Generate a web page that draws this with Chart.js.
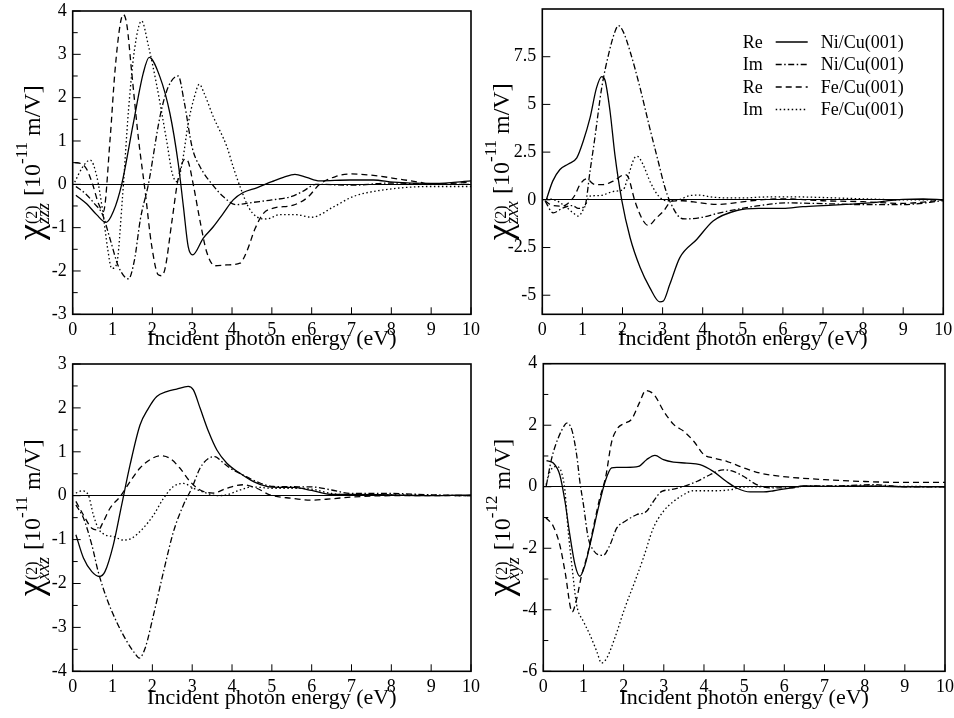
<!DOCTYPE html>
<html>
<head>
<meta charset="utf-8">
<script src="https://cdn.jsdelivr.net/npm/chart.js@4.4.1/dist/chart.umd.min.js"></script>
<style>
  body { margin: 0; background: #fff; width: 954px; height: 718px; overflow: hidden; }
  .panel { position: absolute; }
</style>
</head>
<body>
<div class="panel" style="left:0;top:0;width:490px;height:359px"><canvas id="zzz"></canvas></div>
<div class="panel" style="left:464px;top:0;width:490px;height:359px"><canvas id="zxx"></canvas></div>
<div class="panel" style="left:0;top:340px;width:490px;height:378px"><canvas id="xxz"></canvas></div>
<div class="panel" style="left:464px;top:340px;width:490px;height:378px"><canvas id="xyz"></canvas></div>
<script>
// ─── DATA (energies in eV) ──────────────────────────────────────
const xTicks = [0, 1, 2, 3, 4, 5, 6, 7, 8, 9, 10];
const partLabels = ['Re', 'Im', 'Re', 'Im'];
const filmLabels = ['Ni/Cu(001)', 'Ni/Cu(001)', 'Fe/Cu(001)', 'Fe/Cu(001)'];
const xTitle = 'Incident photon energy (eV)';

// chi_zzz  [1e-11 m/V]
const zzzTicks = [-3, -2, -1, 0, 1, 2, 3, 4];
const zzzReNiE = [0.08, 0.35, 0.6, 0.84, 1.02, 1.23, 1.52, 1.77, 1.92, 2.19, 2.44, 2.65, 2.78, 2.9, 3.01, 3.28, 3.53, 3.78, 4.03, 4.28, 4.62, 5.0, 5.29, 5.58, 5.87, 6.2, 6.96, 7.55, 8.05, 9.0, 9.5, 10];
const zzzReNi = [-0.25, -0.45, -0.7, -0.88, -0.63, 0, 1.4, 2.56, 2.93, 2.48, 1.64, 0.48, -0.52, -1.44, -1.63, -1.24, -0.98, -0.67, -0.36, -0.19, -0.08, 0.06, 0.16, 0.23, 0.16, 0.08, 0.1, 0.1, 0.05, 0.02, 0.04, 0.08];
const zzzImNiE = [0.08, 0.3, 0.55, 0.75, 0.95, 1.15, 1.4, 1.55, 1.7, 1.9, 2.2, 2.4, 2.65, 2.8, 3.0, 3.2, 3.5, 3.8, 4.1, 4.5, 5.0, 5.5, 5.8, 6.1, 7.0, 8.0, 9.0, 10];
const zzzImNi = [-0.05, -0.2, -0.45, -0.7, -1.3, -1.9, -2.18, -1.75, -0.8, 0.0, 1.6, 2.25, 2.5, 1.9, 0.85, 0.4, 0.0, -0.3, -0.47, -0.42, -0.36, -0.28, -0.15, 0.0, -0.02, 0.03, 0.0, 0.0];
const zzzReFeE = [0.05, 0.2, 0.35, 0.5, 0.65, 0.77, 0.94, 1.06, 1.19, 1.27, 1.36, 1.48, 1.65, 1.82, 1.98, 2.15, 2.23, 2.32, 2.49, 2.65, 2.82, 2.9, 3.03, 3.2, 3.36, 3.57, 3.87, 4.2, 4.37, 4.58, 4.79, 5.04, 5.54, 5.9, 6.2, 6.6, 7.0, 7.6, 8.2, 8.7, 9.0, 9.5, 10];
const zzzReFe = [0.5, 0.48, 0.35, 0.0, -0.45, -0.63, 1.06, 2.6, 3.68, 3.92, 3.68, 2.6, 1.06, -0.17, -1.4, -2.09, -2.11, -1.94, -0.86, 0.14, 0.58, 0.52, -0.02, -0.86, -1.55, -1.88, -1.86, -1.82, -1.55, -1.02, -0.67, -0.55, -0.48, -0.3, 0.0, 0.18, 0.24, 0.2, 0.12, 0.05, 0.0, 0.02, 0.05];
const zzzImFeE = [0.05, 0.25, 0.44, 0.6, 0.75, 0.88, 0.98, 1.1, 1.25, 1.4, 1.55, 1.73, 1.9, 2.1, 2.36, 2.5, 2.62, 2.75, 2.9, 3.05, 3.18, 3.3, 3.53, 3.87, 4.03, 4.2, 4.41, 4.62, 4.87, 5.2, 5.6, 6.0, 6.55, 7.05, 7.8, 9.0, 10];
const zzzImFe = [0.05, 0.4, 0.56, 0.2, -0.6, -1.5, -1.94, -1.85, -0.3, 1.7, 3.1, 3.77, 3.2, 2.33, 1.0, 0.25, 0.06, 0.5, 1.4, 2.0, 2.31, 2.1, 1.56, 0.87, 0.4, -0.05, -0.52, -0.75, -0.8, -0.7, -0.7, -0.76, -0.52, -0.28, -0.13, -0.05, -0.05];

// chi_zxx  [1e-11 m/V]
const zxxTicks = [-5, -2.5, 0, 2.5, 5, 7.5];
const zxxReNiE = [0.1, 0.26, 0.44, 0.65, 0.86, 1.02, 1.19, 1.35, 1.48, 1.56, 1.69, 1.81, 1.98, 2.19, 2.44, 2.68, 2.93, 3.02, 3.18, 3.43, 3.85, 4.26, 4.85, 5.4, 6.0, 6.5, 7.0, 8.0, 9.0, 9.5, 10];
const zxxReNi = [0, 0.98, 1.59, 1.88, 2.2, 3.07, 4.29, 5.85, 6.46, 6.29, 4.63, 2.37, 0, -1.99, -3.55, -4.6, -5.35, -5.3, -4.43, -3.03, -2.08, -1.11, -0.56, -0.45, -0.45, -0.36, -0.3, -0.19, 0.02, 0.05, 0.0];
const zxxImNiE = [0.07, 0.27, 0.52, 0.75, 0.9, 1.06, 1.19, 1.31, 1.48, 1.65, 1.81, 1.9, 2.02, 2.19, 2.44, 2.68, 2.89, 3.06, 3.18, 3.43, 3.56, 3.93, 4.43, 4.93, 5.42, 6.1, 7.0, 8.0, 9.0, 10];
const zxxImNi = [-0.07, -0.68, -0.42, -0.3, -0.45, -0.33, 1.5, 3.24, 5.85, 7.6, 8.8, 9.13, 8.8, 7.77, 5.85, 3.76, 2.02, 0.63, -0.07, -0.93, -1.0, -0.94, -0.68, -0.47, -0.3, -0.16, -0.2, -0.25, -0.25, -0.05];
const zxxReFeE = [0.07, 0.19, 0.44, 0.6, 0.8, 0.94, 1.1, 1.31, 1.52, 1.77, 2.06, 2.15, 2.31, 2.52, 2.64, 2.85, 3.02, 3.23, 3.5, 3.93, 4.35, 4.8, 5.2, 6.0, 7.0, 8.0, 9.0, 9.5, 10];
const zxxReFe = [-0.05, -0.24, -0.33, -0.25, 0.2, 0.8, 1.1, 0.8, 0.8, 0.98, 1.32, 1.15, -0.07, -1.11, -1.34, -0.94, -0.6, -0.07, -0.05, -0.16, -0.24, -0.16, -0.05, 0.05, -0.05, -0.1, -0.19, -0.12, 0.0];
const zxxImFeE = [0.1, 0.3, 0.55, 0.75, 0.9, 1.05, 1.2, 1.43, 1.8, 2.02, 2.15, 2.3, 2.37, 2.5, 2.7, 2.9, 3.1, 3.4, 3.68, 3.93, 4.2, 4.68, 5.0, 5.6, 6.4, 7.0, 8.0, 9.0, 10];
const zxxImFe = [0.05, 0.0, -0.3, -0.65, -0.85, -0.4, 0.2, 0.22, 0.45, 0.54, 1.3, 2.2, 2.28, 1.9, 0.9, 0.2, -0.05, 0.0, 0.22, 0.25, 0.15, 0.1, 0.1, 0.15, 0.15, 0.12, 0.05, 0.0, 0.0];

// chi_xxz  [1e-11 m/V]
const xxzTicks = [-4, -3, -2, -1, 0, 1, 2, 3];
const xxzReNiE = [0.08, 0.27, 0.48, 0.67, 0.81, 1.02, 1.23, 1.44, 1.69, 1.9, 2.11, 2.36, 2.61, 2.9, 3.03, 3.2, 3.41, 3.62, 3.87, 4.2, 4.54, 4.87, 5.2, 5.54, 6.0, 6.5, 7.0, 8.0, 9.0, 10];
const xxzReNi = [-0.89, -1.42, -1.73, -1.84, -1.73, -1.12, -0.21, 0.7, 1.61, 1.99, 2.26, 2.37, 2.43, 2.49, 2.41, 1.99, 1.46, 1.04, 0.74, 0.51, 0.32, 0.21, 0.19, 0.19, 0.12, 0.03, 0.03, 0.02, 0.0, 0.02];
const xxzImNiE = [0.08, 0.27, 0.48, 0.64, 0.85, 1.1, 1.36, 1.56, 1.67, 1.82, 2.03, 2.28, 2.53, 2.78, 2.99, 3.2, 3.41, 3.57, 3.74, 3.95, 4.28, 4.62, 5.04, 6.0, 6.5, 7.0, 8.0, 9.0, 10];
const xxzImNi = [-0.21, -0.51, -1.12, -1.73, -2.33, -2.87, -3.32, -3.59, -3.7, -3.47, -2.71, -1.73, -0.82, -0.21, 0.17, 0.63, 0.85, 0.89, 0.78, 0.63, 0.47, 0.32, 0.21, 0.2, 0.13, 0.05, 0.05, 0.02, 0.0];
const xxzReFeE = [0.08, 0.27, 0.48, 0.64, 0.77, 0.94, 1.19, 1.44, 1.69, 1.94, 2.19, 2.44, 2.69, 2.95, 3.2, 3.53, 3.87, 4.28, 4.62, 4.95, 5.5, 6.0, 6.5, 7.0, 8.0, 10];
const xxzReFe = [-0.13, -0.44, -0.74, -0.78, -0.59, -0.28, -0.02, 0.32, 0.63, 0.82, 0.91, 0.85, 0.63, 0.32, 0.13, 0.06, 0.17, 0.25, 0.17, 0.02, -0.06, -0.1, -0.07, -0.03, 0.0, 0.0];
const xxzImFeE = [0.08, 0.23, 0.39, 0.52, 0.64, 0.81, 1.02, 1.27, 1.48, 1.77, 2.03, 2.28, 2.53, 2.78, 3.03, 3.36, 3.62, 3.87, 4.2, 4.5, 5.0, 5.5, 6.0, 6.5, 7.0, 8.0, 10];
const xxzImFe = [0.06, 0.11, 0.02, -0.44, -0.74, -0.89, -0.93, -1.01, -0.97, -0.74, -0.44, -0.06, 0.21, 0.28, 0.17, 0.06, 0.0, 0.02, 0.13, 0.2, 0.17, 0.17, 0.15, 0.05, 0.02, 0.02, 0.0];

// chi_xyz  [1e-12 m/V]
const xyzTicks = [-6, -4, -2, 0, 2, 4];
const xyzReNiE = [0.08, 0.25, 0.41, 0.54, 0.66, 0.79, 0.91, 1.04, 1.2, 1.37, 1.54, 1.7, 1.83, 2.07, 2.37, 2.57, 2.78, 2.99, 3.24, 3.57, 3.9, 4.23, 4.56, 4.81, 5.15, 5.48, 5.74, 6.16, 6.49, 7.0, 8.0, 9.0, 10];
const xyzReNi = [0.85, 0.77, 0.39, -0.48, -1.56, -2.54, -2.91, -2.54, -1.67, -0.69, 0.17, 0.61, 0.63, 0.63, 0.66, 0.88, 1.02, 0.88, 0.8, 0.77, 0.72, 0.5, 0.17, -0.04, -0.17, -0.17, -0.13, -0.04, 0.03, 0.01, 0.03, 0.0, 0.0];
const xyzImNiE = [0.07, 0.21, 0.37, 0.54, 0.58, 0.71, 0.83, 0.91, 1.0, 1.12, 1.24, 1.37, 1.49, 1.66, 1.83, 2.03, 2.32, 2.57, 2.74, 2.95, 3.15, 3.49, 3.82, 4.15, 4.48, 4.73, 4.98, 5.31, 5.64, 6.16, 6.57, 7.4, 8.2, 9.0, 10];
const xyzImNi = [0, 0.93, 1.58, 2.02, 2.07, 1.85, 1.04, 0.17, -0.59, -1.67, -2.05, -2.21, -2.23, -1.89, -1.34, -1.13, -0.91, -0.8, -0.48, -0.15, -0.1, 0.01, 0.17, 0.39, 0.55, 0.5, 0.34, 0.07, -0.04, -0.04, 0.03, 0.03, 0.07, 0.0, 0.0];
const xyzReFeE = [0.06, 0.25, 0.41, 0.54, 0.72, 0.82, 0.95, 1.1, 1.25, 1.4, 1.55, 1.7, 1.85, 2.0, 2.2, 2.4, 2.55, 2.76, 3.0, 3.25, 3.5, 3.75, 4.0, 4.25, 4.58, 5.0, 5.41, 5.91, 7.0, 8.0, 9.0, 10];
const xyzReFe = [-1.0, -1.29, -1.89, -2.75, -4.07, -3.7, -2.9, -2.2, -1.3, -0.4, 0.3, 1.45, 1.9, 2.05, 2.2, 2.75, 3.13, 2.99, 2.45, 2.02, 1.8, 1.47, 1.04, 0.93, 0.82, 0.61, 0.44, 0.34, 0.23, 0.17, 0.14, 0.14];
const xyzImFeE = [0.07, 0.17, 0.33, 0.46, 0.54, 0.62, 0.71, 0.83, 1.0, 1.16, 1.33, 1.45, 1.58, 1.78, 2.03, 2.28, 2.49, 2.74, 2.99, 3.24, 3.49, 3.73, 3.98, 4.32, 4.65, 4.98, 6.0, 7.0, 8.0, 10];
const xyzImFe = [0.07, 0.5, 0.66, 0.44, -0.15, -1.45, -2.54, -3.84, -4.38, -4.81, -5.35, -5.73, -5.57, -4.92, -3.94, -3.08, -2.32, -1.34, -0.8, -0.48, -0.26, -0.13, -0.13, -0.13, -0.1, -0.01, 0.0, 0.02, 0.02, 0.0];

// ─── STYLE ──────────────────────────────────────────────────────
const SERIF = "'Liberation Serif', 'Times New Roman', serif";
const dashes = [[], [6, 2.5, 1.5, 2.5], [6, 4], [1.5, 2.5]];

Chart.defaults.font.family = SERIF;
Chart.defaults.color = '#000';

function series(E, V, i) {
  return {
    label: filmLabels[i],
    part: partLabels[i],
    data: E.map((x, k) => ({ x, y: V[k] })),
    borderColor: '#000',
    borderWidth: 1.3,
    borderDash: dashes[i],
    pointRadius: 0,
    fill: false,
    cubicInterpolationMode: 'monotone',
  };
}

// inward tick marks + frame box
const framePlugin = {
  id: 'frame',
  afterDraw(chart, args, opts) {
    const { ctx, chartArea: a, scales: { x, y } } = chart;
    ctx.save();
    ctx.strokeStyle = '#000';
    ctx.lineWidth = 1;
    const seg = (x1, y1, x2, y2) => { ctx.beginPath(); ctx.moveTo(x1, y1); ctx.lineTo(x2, y2); ctx.stroke(); };
    const major = y.ticks.map(t => t.value);
    major.forEach(v => { const py = y.getPixelForValue(v); seg(a.left, py, a.left + 8, py); });
    if (opts.minor) {
      for (let v = y.min; v <= y.max + 1e-9; v += opts.minor) {
        if (major.some(m => Math.abs(m - v) < 1e-6)) continue;
        const py = y.getPixelForValue(v);
        seg(a.left, py, a.left + 5, py);
      }
    }
    x.ticks.forEach(t => { const px = x.getPixelForValue(t.value); seg(px, a.bottom, px, a.bottom - 7); });
    ctx.lineWidth = 1.6;
    ctx.strokeRect(a.left, a.top, a.right - a.left, a.bottom - a.top);
    ctx.restore();
  },
};

// rotated y title:  chi^(2)_sub [10^exp m/V]
const yTitlePlugin = {
  id: 'ytitle',
  afterDraw(chart, args, opts) {
    const { ctx, chartArea: a } = chart;
    const parts = [
      { t: 'χ', f: `36px ${SERIF}`, dy: 2 },
      { stack: [{ t: '(2)', f: `16px ${SERIF}`, dy: -3 }, { t: opts.sub, f: `italic 18px ${SERIF}`, dy: 9 }] },
      { t: ' [10', f: `24px ${SERIF}`, dy: 0 },
      { t: opts.exp, f: `17px ${SERIF}`, dy: -13 },
      { t: ' m/V]', f: `24px ${SERIF}`, dy: 0 },
    ];
    ctx.save();
    const widthOf = p => { ctx.font = p.f; return ctx.measureText(p.t).width; };
    const adv = parts.map(p => p.stack ? Math.max(...p.stack.map(widthOf)) + 1 : widthOf(p));
    const total = adv.reduce((s, w) => s + w, 0);
    ctx.translate(a.left - 33, (a.top + a.bottom) / 2);
    ctx.rotate(-Math.PI / 2);
    ctx.fillStyle = '#000';
    ctx.textBaseline = 'alphabetic';
    let cx = -total / 2;
    parts.forEach((p, i) => {
      (p.stack || [p]).forEach(q => { ctx.font = q.f; ctx.fillText(q.t, cx, q.dy); });
      cx += adv[i];
    });
    ctx.restore();
  },
};

// "Re ——— Ni/Cu(001)" style legend
const legendPlugin = {
  id: 'reimLegend',
  afterDraw(chart, args, opts) {
    if (!opts.show) return;
    const { ctx } = chart;
    ctx.save();
    ctx.fillStyle = '#000';
    ctx.font = `18px ${SERIF}`;
    ctx.textBaseline = 'alphabetic';
    chart.data.datasets.forEach((ds, i) => {
      const by = opts.y + i * opts.row;
      ctx.fillText(ds.part, opts.x, by);
      ctx.strokeStyle = '#000';
      ctx.lineWidth = 1.3;
      ctx.setLineDash(ds.borderDash);
      ctx.beginPath();
      ctx.moveTo(opts.x + 33, by - 5.5);
      ctx.lineTo(opts.x + 65, by - 5.5);
      ctx.stroke();
      ctx.setLineDash([]);
      ctx.fillText(ds.label, opts.x + 78, by);
    });
    ctx.restore();
  },
};

function makePanel(id, sets, cfg) {
  const ctx = document.getElementById(id);
  return new Chart(ctx, {
    type: 'line',
    data: { datasets: sets },
    options: {
      responsive: true,
      maintainAspectRatio: false,
      animation: false,
      devicePixelRatio: 1,
      events: [],
      layout: { autoPadding: false, padding: { top: cfg.top, right: cfg.right, left: 0, bottom: 0 } },
      plugins: {
        legend: { display: false },
        tooltip: { enabled: false },
        frame: { minor: cfg.minor },
        ytitle: { sub: cfg.sub, exp: cfg.exp },
        reimLegend: cfg.legend || { show: false },
      },
      scales: {
        x: {
          type: 'linear',
          min: 0,
          max: 10,
          afterBuildTicks: s => { s.ticks = xTicks.map(v => ({ value: v })); },
          afterFit: s => { s.height = cfg.xh; s.paddingLeft = 0; s.paddingRight = 0; },
          grid: { display: false, drawTicks: false },
          border: { display: false },
          ticks: { autoSkip: false, maxRotation: 0, padding: 5, color: '#000', font: { size: 18, family: SERIF } },
          title: { display: true, text: xTitle, color: '#000', font: { size: 22, family: SERIF }, padding: { top: 0, bottom: 7 } },
        },
        y: {
          type: 'linear',
          min: cfg.min,
          max: cfg.max,
          afterBuildTicks: s => { s.ticks = cfg.ticks.map(v => ({ value: v })); },
          afterFit: s => { s.width = cfg.yw; s.paddingTop = 0; s.paddingBottom = 0; },
          grid: {
            drawTicks: false,
            lineWidth: 1,
            color: c => (c.tick && c.tick.value === 0 ? '#000' : 'rgba(0,0,0,0)'),
          },
          border: { display: false },
          ticks: { padding: 6, color: '#000', font: { size: 18, family: SERIF }, callback: v => String(v) },
        },
      },
    },
    plugins: [framePlugin, yTitlePlugin, legendPlugin],
  });
}

makePanel('zzz', [
  series(zzzReNiE, zzzReNi, 0), series(zzzImNiE, zzzImNi, 1),
  series(zzzReFeE, zzzReFe, 2), series(zzzImFeE, zzzImFe, 3),
], { min: -3, max: 4, ticks: zzzTicks, minor: 0.5, sub: 'zzz', exp: '-11', yw: 72.7, xh: 44.7, top: 11, right: 19 });

makePanel('zxx', [
  series(zxxReNiE, zxxReNi, 0), series(zxxImNiE, zxxImNi, 1),
  series(zxxReFeE, zxxReFe, 2), series(zxxImFeE, zxxImFe, 3),
], { min: -6, max: 10, ticks: zxxTicks, minor: null, sub: 'zxx', exp: '-11', yw: 78.3, xh: 44.7, top: 9, right: 10.7,
     legend: { show: true, x: 278.7, y: 47.5, row: 22.5 } });

makePanel('xxz', [
  series(xxzReNiE, xxzReNi, 0), series(xxzImNiE, xxzImNi, 1),
  series(xxzReFeE, xxzReFe, 2), series(xxzImFeE, xxzImFe, 3),
], { min: -4, max: 3, ticks: xxzTicks, minor: 0.5, sub: 'xxz', exp: '-11', yw: 72.7, xh: 46.7, top: 24, right: 19 });

makePanel('xyz', [
  series(xyzReNiE, xyzReNi, 0), series(xyzImNiE, xyzImNi, 1),
  series(xyzReFeE, xyzReFe, 2), series(xyzImFeE, xyzImFe, 3),
], { min: -6, max: 4, ticks: xyzTicks, minor: 1, sub: 'xyz', exp: '-12', yw: 79.3, xh: 46.7, top: 23.7, right: 9 });
</script>
</body>
</html>
